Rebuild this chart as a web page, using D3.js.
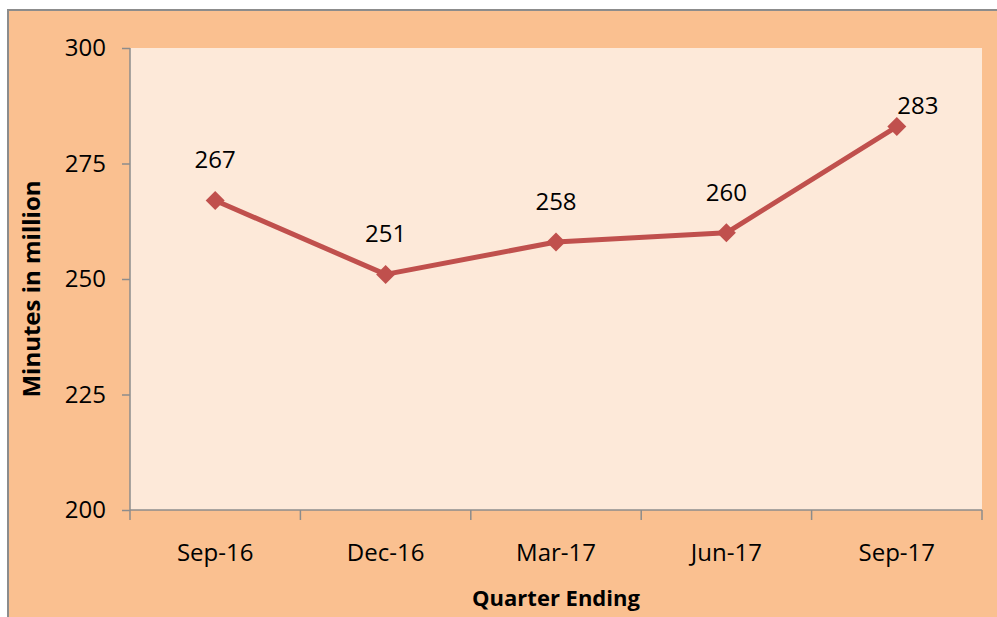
<!DOCTYPE html>
<meta charset="utf-8">
<style>
    body { margin: 0; background: #fff; }
    text { font-family: "Open Sans", sans-serif; fill: #000; }
</style>
<script src="https://d3js.org/d3.v7.min.js"></script>
<body>
<script>
    var quarters = ["Sep-16", "Dec-16", "Mar-17", "Jun-17", "Sep-17"];
    var minutes = [267, 251, 258, 260, 283];
    var yTicks = [200, 225, 250, 275, 300];

    var width = 997;
    var height = 617;
    var margin = {top: 48, right: 15, bottom: 107, left: 130};

    var svg = d3.select("body").append("svg")
        .attr("width", width)
        .attr("height", height);

    // outer chart box
    svg.append("rect")
        .attr("x", 8).attr("y", 10)
        .attr("width", width + 10).attr("height", height + 10)
        .attr("fill", "#fac090")
        .attr("stroke", "#8c8c8c")
        .attr("stroke-width", 2);

    var x = d3.scaleBand()
        .domain(quarters)
        .range([margin.left, width - margin.right]);

    var y = d3.scaleLinear()
        .domain([200, 300])
        .range([height - margin.bottom, margin.top]);

    svg.append("rect")
        .attr("x", margin.left).attr("y", margin.top)
        .attr("width", width - margin.right - margin.left)
        .attr("height", height - margin.bottom - margin.top)
        .attr("fill", "#fde9d9");

    var yAxis = svg.append("g")
        .attr("transform", `translate(${margin.left},0)`)
        .call(d3.axisLeft(y).tickValues(yTicks).tickSize(8).tickPadding(16));

    var xAxis = svg.append("g")
        .attr("transform", `translate(0,${height - margin.bottom})`)
        .call(d3.axisBottom(x).tickSize(0).tickPadding(34));

    // tick marks between categories
    var bounds = quarters.map(function(q) { return x(q); }).concat([x.range()[1]]);
    xAxis.selectAll("line.sep")
        .data(bounds)
        .enter().append("line")
        .attr("class", "sep")
        .attr("x1", function(d) { return d; })
        .attr("x2", function(d) { return d; })
        .attr("y1", 0).attr("y2", 10);

    svg.selectAll(".domain, .tick line, line.sep")
        .attr("stroke", "#8c8c8c")
        .attr("stroke-width", 1.5);

    yAxis.selectAll(".domain").attr("d", `M0,${margin.top}V${height - margin.bottom}`);
    xAxis.selectAll(".domain").attr("d", `M${margin.left},0H${width - margin.right}`);

    svg.selectAll(".tick text")
        .attr("font-family", "Open Sans, sans-serif")
        .attr("font-size", 24)
        .attr("fill", "#000");

    var line = d3.line()
        .x(function(d, i) { return x(quarters[i]) + x.bandwidth() / 2; })
        .y(function(d) { return y(d); });

    svg.append("path")
        .datum(minutes)
        .attr("d", line)
        .attr("fill", "none")
        .attr("stroke", "#c0504d")
        .attr("stroke-width", 5)
        .attr("stroke-linejoin", "round");

    var r = 9.5;
    svg.selectAll("path.marker")
        .data(minutes)
        .enter().append("path")
        .attr("class", "marker")
        .attr("d", `M0,${-r}L${r},0L0,${r}L${-r},0Z`)
        .attr("transform", function(d, i) {
            return `translate(${x(quarters[i]) + x.bandwidth() / 2},${y(d)})`;
        })
        .attr("fill", "#c0504d");

    svg.selectAll("text.label")
        .data(minutes)
        .enter().append("text")
        .attr("class", "label")
        .attr("x", function(d, i) { return x(quarters[i]) + x.bandwidth() / 2 + (i == 4 ? 21 : 0); })
        .attr("y", function(d, i) { return y(d) - (i == 4 ? 13 : 32); })
        .attr("text-anchor", "middle")
        .attr("font-size", 24)
        .text(function(d) { return d; });

    svg.append("text")
        .attr("transform", "translate(40,289) rotate(-90)")
        .attr("text-anchor", "middle")
        .attr("font-size", 24)
        .attr("font-weight", "bold")
        .text("Minutes in million");

    svg.append("text")
        .attr("x", 556).attr("y", 606)
        .attr("text-anchor", "middle")
        .attr("font-size", 22)
        .attr("font-weight", "bold")
        .text("Quarter Ending");
</script>
